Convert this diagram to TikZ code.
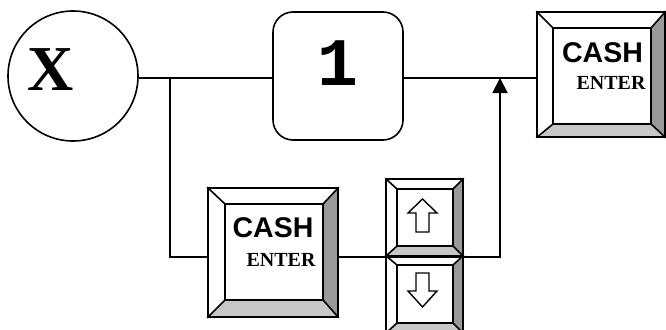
\documentclass[tikz,border=0pt]{standalone}
\usepackage{fontspec}
\setmainfont{Liberation Serif}
\newfontfamily\cashfont{Liberation Sans}
\newfontfamily\monofont{Liberation Mono}
\usetikzlibrary{arrows.meta,calc}
\definecolor{bevdark}{gray}{0.6}
\definecolor{bevlight}{gray}{0.78}
\tikzset{
  conn/.style={line width=1.9pt},
  keyline/.style={line width=1.6pt},
  keyout/.style={draw, keyline, inner sep=0pt, rectangle},
  cashtxt/.style={font=\cashfont\bfseries\fontsize{28.5}{30}\selectfont, inner sep=0pt},
  entertxt/.style={font=\bfseries\fontsize{20}{22}\selectfont, inner sep=0pt},
  glyph/.style={draw, fill=white, line width=1.4pt, line join=miter},
}
% #1 name, #2 x1, #3 y1, #4 x2, #5 y2 (outer), #6 left, #7 top, #8 right, #9 bottom bevel
\newcommand{\bevkey}[9]{%
  \coordinate (#1-a) at (#2+#6,#3+#7);
  \coordinate (#1-b) at (#4-#8,#3+#7);
  \coordinate (#1-c) at (#4-#8,#5-#9);
  \coordinate (#1-d) at (#2+#6,#5-#9);
  \fill[bevdark] (#4,#3) -- (#1-b) -- (#1-c) -- (#4,#5) -- cycle;
  \fill[bevlight] (#2,#5) -- (#1-d) -- (#1-c) -- (#4,#5) -- cycle;
  \node[keyout, minimum width={(#4-#2)*1pt}, minimum height={(#5-#3)*1pt}] (#1) at ({(#2+#4)/2},{(#3+#5)/2}) {};
  \draw[keyline] (#1-a) rectangle (#1-c);
  \draw[keyline] (#1.north west) -- (#1-a) (#1.north east) -- (#1-b)
                 (#1.south east) -- (#1-c) (#1.south west) -- (#1-d);
}
\begin{document}
\begin{tikzpicture}[x=1pt,y=-1pt]
\useasboundingbox (0,0) rectangle (666,329);

% circle X
\node[draw, circle, line width=1.6pt, minimum size=130pt, inner sep=0pt] (X) at (73,76) {};
\node[font=\bfseries\fontsize{64}{66}\selectfont, inner sep=0pt] (Xt) at (51,70) {X};

% box 1
\node[draw, rectangle, rounded corners=20pt, line width=1.6pt, minimum width=130pt, minimum height=128pt, inner sep=0pt] (one) at (338,76) {};
\node[font=\monofont\bfseries\fontsize{68}{70}\selectfont, inner sep=0pt] (onet) at (338,63) {1};

% keys
\bevkey{cashR}{537}{12}{665}{137}{16}{16}{14}{13}
\node[cashtxt] (cashRt1) at (602.5,52.5) {CASH};
\node[entertxt] (cashRt2) at (611,83) {ENTER};

\bevkey{cashB}{208}{188}{338}{317}{17}{16}{15}{17}
\node[cashtxt] (cashBt1) at (273,227.5) {CASH};
\node[entertxt] (cashBt2) at (281,259.5) {ENTER};

\bevkey{up}{386}{179}{463}{256}{11}{10}{10}{10}
\bevkey{down}{386}{256}{463}{333}{11}{9}{10}{10}

% arrow glyphs
\draw[glyph] (422.5,199) -- (437,213) -- (429,213) -- (429,232) -- (416,232) -- (416,213) -- (408,213) -- cycle;
\draw[glyph] (422.5,307) -- (437,291) -- (429,291) -- (429,273) -- (416,273) -- (416,291) -- (408,291) -- cycle;

% connectors
\coordinate (m) at (0,78);
\coordinate (b) at (0,257);
\coordinate (j1) at (170,78);
\coordinate (j2) at (500,78);
\draw[conn] (X.east |- m) -- (one.west |- m);
\draw[conn] (one.east |- m) -- (cashR.west |- m);
\draw[conn] (j1) |- (cashB.west |- b);
\draw[conn] (cashB.east |- b) -- (up.west |- b) -- (up.east |- b);
\draw[conn, -{Triangle[width=15pt,length=15pt]}] (up.east |- b) -| (j2);
\end{tikzpicture}
\end{document}
